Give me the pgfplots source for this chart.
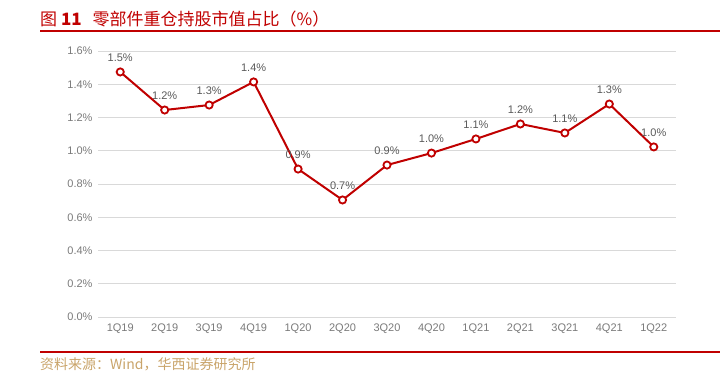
\documentclass[border=0pt]{standalone}
\usepackage{pgfplots}
\pgfplotsset{compat=1.18}
\usepackage{fontspec}
\setmainfont{Liberation Sans}
\newfontfamily\cjk{Noto Sans CJK SC}
\definecolor{hxred}{HTML}{C00000}
\definecolor{hxgold}{HTML}{C9A46A}
\definecolor{tickgray}{HTML}{7A7A7A}
\definecolor{labgray}{HTML}{595959}
\definecolor{gridgray}{HTML}{D9D9D9}
\begin{document}
\begin{tikzpicture}[x=1pt,y=1pt]
\useasboundingbox (0,0) rectangle (720,385);
\node[anchor=base west, text=hxred, inner sep=0pt, font=\fontsize{17}{19}\selectfont] at (40,359) {\cjk 图 \textbf{11}\hspace{11pt}零部件重仓持股市值占比（\%）};
\draw[hxred, line width=2pt] (40,354) -- (720,354);
\draw[hxred, line width=2pt] (40,33) -- (720,33);
\node[anchor=base west, text=hxgold, inner sep=0pt, font=\fontsize{14}{16}\selectfont] at (40,15) {\cjk 资料来源：Wind，华西证券研究所};
\begin{axis}[
  at={(98pt,68pt)}, anchor=south west,
  scale only axis, width=578pt, height=266pt,
  xmin=-0.5, xmax=12.5, ymin=0, ymax=1.6,
  xtick={0,...,12},
  xticklabels={1Q19,2Q19,3Q19,4Q19,1Q20,2Q20,3Q20,4Q20,1Q21,2Q21,3Q21,4Q21,1Q22},
  ytick={0,0.2,...,1.6},
  yticklabel={\pgfmathprintnumber[fixed,fixed zerofill,precision=1]{\tick}\%},
  /pgf/number format/assume math mode=true,
  ymajorgrids, grid style={gridgray, line width=0.8pt},
  axis x line*=bottom, axis y line*=left,
  x axis line style={gridgray, line width=0.8pt, -},
  y axis line style={draw=none},
  major tick length=0pt,
  tick label style={text=tickgray, font=\fontsize{11}{13}\selectfont},
  xticklabel style={yshift=-3pt},
  yticklabel style={xshift=-2pt},
  clip=false,
]
\addplot[hxred, line width=2pt, mark=*, mark size=3.6pt,
  mark options={fill=white, draw=hxred, line width=1.8pt},
  nodes near coords, point meta=explicit symbolic,
  every node near coord/.append style={text=labgray, font=\fontsize{11}{13}\selectfont, yshift=6pt}]
table[meta=lab] {
x y lab
0 1.474 1.5\%
1 1.245 1.2\%
2 1.275 1.3\%
3 1.414 1.4\%
4 0.890 0.9\%
5 0.704 0.7\%
6 0.914 0.9\%
7 0.986 1.0\%
8 1.071 1.1\%
9 1.161 1.2\%
10 1.107 1.1\%
11 1.281 1.3\%
12 1.023 1.0\%
};
\end{axis}
\end{tikzpicture}
\end{document}
